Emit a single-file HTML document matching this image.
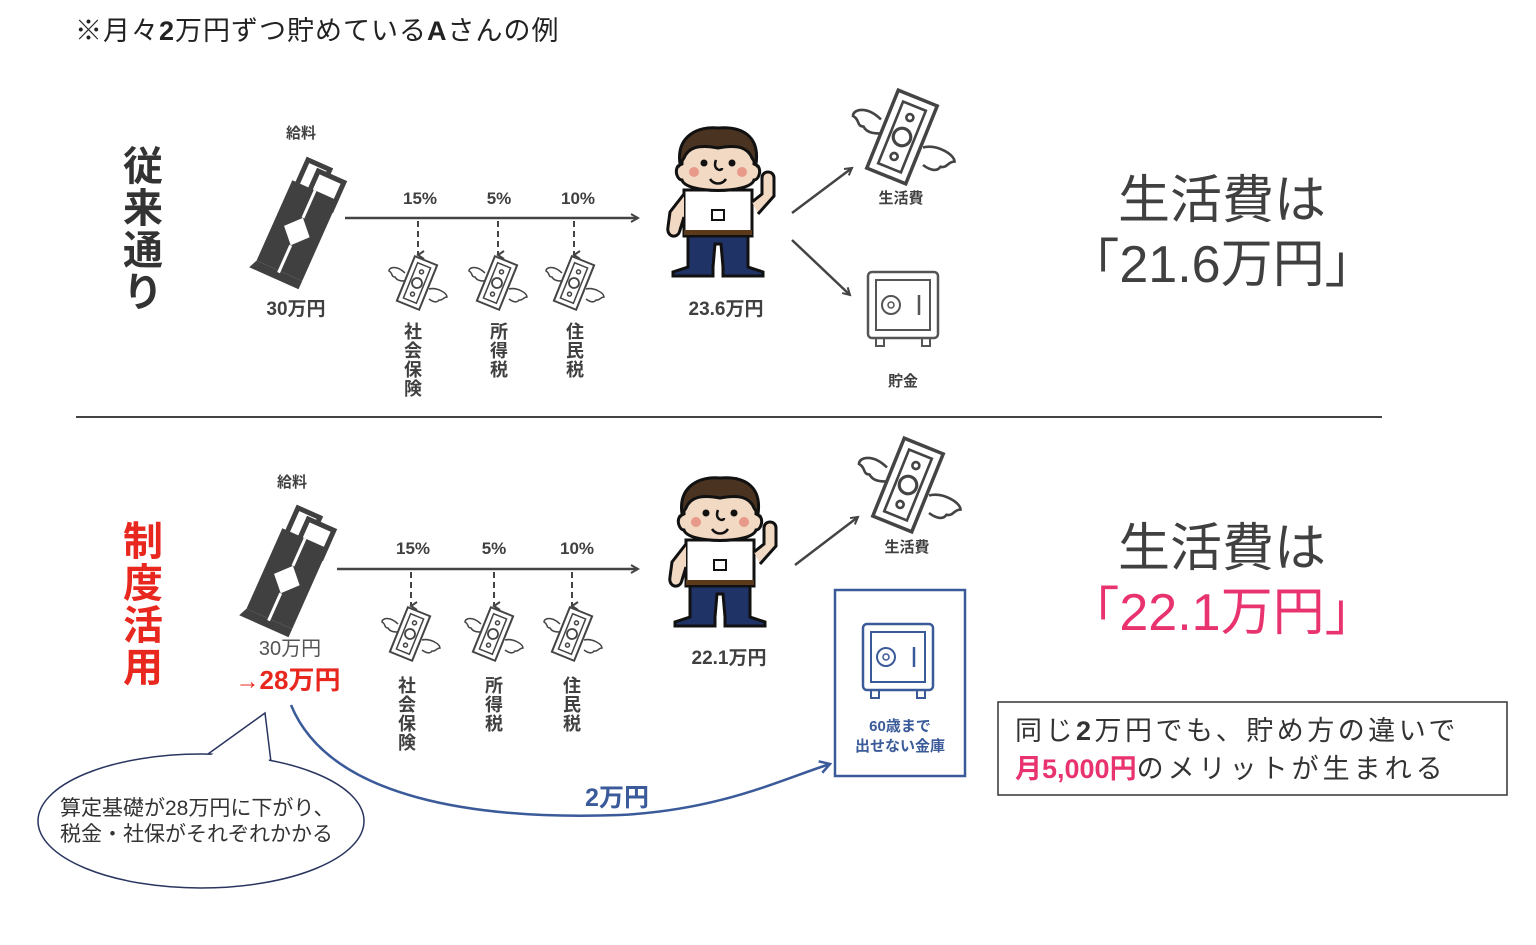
<!DOCTYPE html>
<html><head><meta charset="utf-8"><style>
html,body{margin:0;padding:0;background:#fff;}
svg{display:block;font-family:"Liberation Sans","Noto Sans CJK JP",sans-serif;}
.b{font-weight:bold;fill:#404040;}
</style></head><body>
<svg width="1536" height="945" viewBox="0 0 1536 945" xmlns="http://www.w3.org/2000/svg">
<defs>
<marker id="ah" markerWidth="10" markerHeight="10" refX="8" refY="5" orient="auto" markerUnits="userSpaceOnUse"><path d="M1,1 L8,5 L1,9" fill="none" stroke="#444" stroke-width="2"/></marker>
<marker id="ahs" markerWidth="10" markerHeight="10" refX="5" refY="8" orient="auto" markerUnits="userSpaceOnUse"><path d="M1,2 L5,8 L9,2" fill="none" stroke="#444" stroke-width="2"/></marker>
<marker id="ahb" markerWidth="14" markerHeight="14" refX="11" refY="7" orient="auto" markerUnits="userSpaceOnUse"><path d="M1,1 L11,7 L1,13" fill="none" stroke="#3a5a9a" stroke-width="2.5"/></marker>
<g id="sal">
 <g transform="rotate(24)">
  <rect x="-18" y="-60" width="24" height="28" fill="none" stroke="#404040" stroke-width="5"/>
  <rect x="-4" y="-54" width="28" height="30" fill="#fff" stroke="#404040" stroke-width="5"/>
  <rect x="-24" y="-35" width="50" height="88" fill="#404040"/>
  <path d="M-24,53 L26,53 L26,62 L-28,62 Z" fill="#404040"/>
  <path d="M1,-35 L1,-5 M1,25 L1,55" stroke="#fff" stroke-width="3"/>
  <path d="M1,-5 L15,10 L1,25 L-13,10 Z" fill="#fff"/>
 </g>
</g>
<g id="money">
 <path d="M-12,-10 C-20,-18 -28,-16 -28,-12 C-24,-10 -26,-6 -22,-6 C-20,-2 -15,-2 -12,-2" fill="#fff" stroke="#444" stroke-width="1.5"/>
 <path d="M12,6 C20,4 30,10 30,14 C26,14 26,18 22,17 C20,20 16,19 12,16" fill="#fff" stroke="#444" stroke-width="1.5"/>
 <g transform="rotate(22)">
 <path d="M-12,-24 L12,-24 L12,24 L-12,24 Z" fill="#fff" stroke="#444" stroke-width="2"/>
 <path d="M-7,-19 L7,-19 L7,19 L-7,19 Z" fill="none" stroke="#444" stroke-width="1.5"/>
 <circle cx="0" cy="0" r="5" fill="none" stroke="#444" stroke-width="1.8"/>
 <circle cx="0" cy="-12" r="2" fill="none" stroke="#444" stroke-width="1.5"/>
 <circle cx="0" cy="12" r="2" fill="none" stroke="#444" stroke-width="1.5"/>
 </g>
</g>
<g id="man">
 <path d="M-30,95 L-30,60 L30,60 L30,95 L45,100 L45,104 L5,104 L5,95 L3,72 L-3,72 L-5,95 L-5,104 L-45,104 L-45,100 Z" fill="#1f3366" stroke="#111" stroke-width="3"/>
 <rect x="-34" y="18" width="68" height="46" fill="#fff" stroke="#111" stroke-width="3"/>
 <rect x="-34" y="58" width="68" height="5" fill="#5a3a1a"/>
 <rect x="-6" y="38" width="12" height="10" fill="#fff" stroke="#111" stroke-width="2"/>
 <path d="M-34,22 L-48,40 L-50,55 C-52,65 -40,68 -38,58 L-34,45" fill="#f1d9c4" stroke="#111" stroke-width="3"/>
 <path d="M34,30 L44,22 L44,6 C44,-2 56,-2 56,6 L56,24 L40,42" fill="#f1d9c4" stroke="#111" stroke-width="3"/>
 <path d="M-36,-22 C-36,-44 36,-44 36,-22 L36,-8 L40,-6 C44,0 40,8 36,8 C32,22 -32,22 -36,8 C-40,8 -44,0 -40,-6 L-36,-8 Z" fill="#f1d9c4" stroke="#111" stroke-width="3"/>
 <path d="M-38,-8 C-42,-36 -20,-46 0,-44 C24,-46 42,-36 38,-8 L34,-14 C30,-24 20,-28 0,-24 C-20,-28 -30,-24 -34,-14 Z" fill="#4a3320" stroke="#111" stroke-width="3"/>
 <circle cx="-14" cy="-9" r="3.5" fill="#111"/><circle cx="14" cy="-9" r="3.5" fill="#111"/>
 <circle cx="-24" cy="0" r="5" fill="#e89a8a"/><circle cx="24" cy="0" r="5" fill="#e89a8a"/>
 <path d="M-2,-12 C-6,-2 4,0 4,-4" fill="none" stroke="#111" stroke-width="2.5"/>
 <path d="M-8,7 C-4,13 4,13 8,7" fill="none" stroke="#111" stroke-width="2.5"/>
</g>
<g id="safe">
 <rect x="-35" y="-38" width="70" height="66" rx="4" fill="none" stroke-width="2.5"/>
 <rect x="-27" y="-30" width="54" height="50" fill="none" stroke-width="2"/>
 <circle cx="-12" cy="-5" r="9" fill="none" stroke-width="2"/>
 <circle cx="-12" cy="-5" r="3" fill="none" stroke-width="1.5"/>
 <path d="M16,-15 L16,5" stroke-width="2.5"/>
 <path d="M-27,28 L-27,36 L-19,36 L-19,28 M19,28 L19,36 L27,36 L27,28" fill="none" stroke-width="2"/>
</g>
</defs>

<text x="75" y="40" font-size="27" fill="#222" letter-spacing="1">※月々<tspan font-weight="bold">2</tspan>万円ずつ貯めている<tspan font-weight="bold">A</tspan>さんの例</text>

<!-- TOP -->
<g font-size="40" font-weight="bold" fill="#333" text-anchor="middle">
<text x="143" y="180">従</text><text x="143" y="222">来</text><text x="143" y="264">通</text><text x="143" y="306">り</text>
</g>
<text x="301" y="138" font-size="15" class="b" text-anchor="middle">給料</text>
<use href="#sal" x="300" y="222"/>
<text x="296" y="315" font-size="19" class="b" text-anchor="middle">30万円</text>
<line x1="345" y1="218" x2="638" y2="218" stroke="#444" stroke-width="2.5" marker-end="url(#ah)"/>
<g font-size="17" class="b" text-anchor="middle"><text x="420" y="204">15%</text><text x="499" y="204">5%</text><text x="578" y="204">10%</text></g>
<g stroke="#444" stroke-width="2" stroke-dasharray="6,4" marker-end="url(#ahs)"><line x1="418" y1="221" x2="418" y2="255"/><line x1="498" y1="221" x2="498" y2="255"/><line x1="574" y1="221" x2="574" y2="255"/></g>
<use href="#money" x="417" y="283"/><use href="#money" x="497" y="283"/><use href="#money" x="574" y="283"/>
<g font-size="18" class="b" text-anchor="middle">
<text x="413" y="338">社</text><text x="413" y="357">会</text><text x="413" y="376">保</text><text x="413" y="395">険</text>
<text x="499" y="338">所</text><text x="499" y="357">得</text><text x="499" y="376">税</text>
<text x="575" y="338">住</text><text x="575" y="357">民</text><text x="575" y="376">税</text>
</g>
<text x="722" y="140" font-size="15" class="b" text-anchor="middle">Aさん</text>
<use href="#man" x="718" y="172"/>
<text x="726" y="315" font-size="19" class="b" text-anchor="middle">23.6万円</text>
<line x1="792" y1="213" x2="852" y2="168" stroke="#444" stroke-width="2.5" marker-end="url(#ah)"/>
<line x1="792" y1="240" x2="850" y2="295" stroke="#444" stroke-width="2.5" marker-end="url(#ah)"/>
<use href="#money" transform="translate(902,137) scale(1.75)"/>
<text x="901" y="203" font-size="15" class="b" text-anchor="middle">生活費</text>
<use href="#safe" x="903" y="310" stroke="#555" fill="none"/>
<text x="903" y="386" font-size="15" class="b" text-anchor="middle">貯金</text>
<g font-size="52" fill="#404040" text-anchor="middle"><text x="1222" y="218">生活費は</text><text x="1222" y="282">「21.6万円」</text></g>

<line x1="76" y1="417" x2="1382" y2="417" stroke="#444" stroke-width="2"/>

<!-- BOTTOM -->
<g font-size="40" font-weight="bold" fill="#e8281f" text-anchor="middle">
<text x="143" y="555">制</text><text x="143" y="597">度</text><text x="143" y="639">活</text><text x="143" y="681">用</text>
</g>
<text x="292" y="487" font-size="15" class="b" text-anchor="middle">給料</text>
<use href="#sal" x="290" y="570"/>
<text x="290" y="655" font-size="20" fill="#555" text-anchor="middle">30万円</text>
<text x="288" y="689" font-size="26" font-weight="bold" fill="#e8281f" text-anchor="middle"><tspan font-weight="normal" font-size="24">→</tspan>28万円</text>
<line x1="337" y1="569" x2="638" y2="569" stroke="#444" stroke-width="2.5" marker-end="url(#ah)"/>
<g font-size="17" class="b" text-anchor="middle"><text x="413" y="554">15%</text><text x="494" y="554">5%</text><text x="577" y="554">10%</text></g>
<g stroke="#444" stroke-width="2" stroke-dasharray="6,4" marker-end="url(#ahs)"><line x1="411" y1="572" x2="411" y2="606"/><line x1="494" y1="572" x2="494" y2="606"/><line x1="572" y1="572" x2="572" y2="606"/></g>
<use href="#money" x="410" y="634"/><use href="#money" x="493" y="634"/><use href="#money" x="572" y="634"/>
<g font-size="18" class="b" text-anchor="middle">
<text x="407" y="692">社</text><text x="407" y="711">会</text><text x="407" y="730">保</text><text x="407" y="749">険</text>
<text x="494" y="692">所</text><text x="494" y="711">得</text><text x="494" y="730">税</text>
<text x="572" y="692">住</text><text x="572" y="711">民</text><text x="572" y="730">税</text>
</g>
<text x="724" y="489" font-size="15" class="b" text-anchor="middle">Aさん</text>
<use href="#man" x="720" y="522"/>
<text x="729" y="664" font-size="19" class="b" text-anchor="middle">22.1万円</text>
<line x1="795" y1="565" x2="858" y2="517" stroke="#444" stroke-width="2.5" marker-end="url(#ah)"/>
<use href="#money" transform="translate(908,485) scale(1.75)"/>
<text x="907" y="552" font-size="15" class="b" text-anchor="middle">生活費</text>
<rect x="835" y="590" width="130" height="186" fill="none" stroke="#3a5a9a" stroke-width="2.5"/>
<use href="#safe" x="898" y="662" stroke="#3a5a9a" fill="none"/>
<g font-size="15" font-weight="bold" fill="#3a5a9a" text-anchor="middle"><text x="900" y="731">60歳まで</text><text x="900" y="751">出せない金庫</text></g>
<g font-size="52" text-anchor="middle"><text x="1222" y="566" fill="#404040">生活費は</text><text x="1222" y="630" fill="#e8336e">「22.1万円」</text></g>
<rect x="998" y="702" width="509" height="93" fill="#fff" stroke="#333" stroke-width="1.5"/>
<text x="1015" y="740" font-size="27" fill="#333" letter-spacing="3.5">同じ<tspan font-weight="bold">2</tspan>万円でも、貯め方の違いで</text>
<text x="1015" y="778" font-size="27" fill="#333" letter-spacing="4"><tspan font-weight="bold" fill="#e8336e" letter-spacing="0">月5,000円</tspan>のメリットが生まれる</text>

<path d="M291,705 C330,800 480,820 620,815 C720,810 780,780 830,764" fill="none" stroke="#3a5a9a" stroke-width="2.5" marker-end="url(#ahb)"/>
<text x="617" y="806" font-size="25" font-weight="bold" fill="#3a5a9a" text-anchor="middle">2万円</text>

<path d="M208,754 L265,713 L271,762" fill="#fff" stroke="#2a3560" stroke-width="1.5"/>
<ellipse cx="201" cy="821" rx="163" ry="67" fill="#fff" stroke="#2a3560" stroke-width="1.5"/>
<path d="M210,756 L264,717 L269,762" fill="#fff" stroke="none"/>
<g font-size="21" fill="#333"><text x="60" y="815">算定基礎が28万円に下がり、</text><text x="60" y="841">税金・社保がそれぞれかかる</text></g>
</svg>
</body></html>
